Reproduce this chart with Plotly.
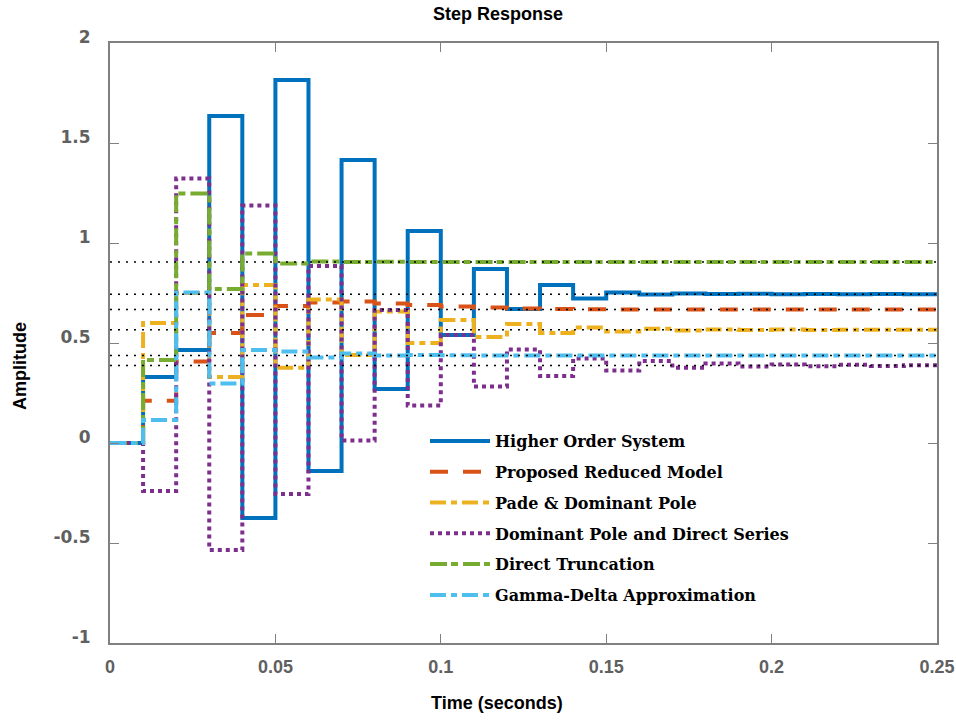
import plotly.graph_objects as go

# sample times (s)
t = [round(k * 0.01, 2) for k in range(26)]

higher_order = [0, 0.33, 0.465, 1.635, -0.375, 1.815, -0.14, 1.415, 0.27, 1.06, 0.54, 0.87, 0.67,
                0.79, 0.723, 0.753, 0.743, 0.748, 0.745, 0.746, 0.744, 0.745, 0.744, 0.745, 0.744, 0.744]
proposed = [0, 0.211, 0.407, 0.55, 0.64, 0.685, 0.703, 0.707, 0.698, 0.69, 0.682, 0.677, 0.673,
            0.67, 0.669, 0.668, 0.668, 0.668, 0.668, 0.668, 0.668, 0.668, 0.668, 0.668, 0.668, 0.668]
pade = [0, 0.60, 0.75, 0.33, 0.79, 0.376, 0.718, 0.44, 0.657, 0.50, 0.615, 0.53, 0.595,
        0.55, 0.578, 0.558, 0.571, 0.563, 0.568, 0.565, 0.567, 0.565, 0.566, 0.566, 0.566, 0.566]
dominant = [0, -0.24, 1.323, -0.535, 1.187, -0.255, 0.885, 0.012, 0.665, 0.187, 0.54, 0.282, 0.468,
            0.335, 0.423, 0.362, 0.41, 0.376, 0.398, 0.382, 0.393, 0.384, 0.391, 0.385, 0.389, 0.387]
truncation = [0, 0.415, 1.248, 0.77, 0.948, 0.898, 0.907, 0.905, 0.906, 0.905, 0.905, 0.905, 0.905,
              0.905, 0.905, 0.905, 0.905, 0.905, 0.905, 0.905, 0.905, 0.905, 0.905, 0.905, 0.905, 0.905]
gamma_delta = [0, 0.115, 0.753, 0.298, 0.465, 0.457, 0.427, 0.448, 0.438, 0.44, 0.439, 0.438, 0.438,
               0.438, 0.438, 0.438, 0.438, 0.438, 0.438, 0.438, 0.438, 0.438, 0.438, 0.438, 0.438, 0.438]
steady_states = [0.905, 0.744, 0.668, 0.566, 0.438, 0.387]

names = ["Higher Order System", "Proposed Reduced Model", "Pade & Dominant Pole",
         "Dominant Pole and Direct Series", "Direct Truncation", "Gamma-Delta Approximation"]
series = [higher_order, proposed, pade, dominant, truncation, gamma_delta]
colors = ["#0072BD", "#D95319", "#EDB120", "#7E2F8E", "#77AC30", "#4DBEEE"]
dashes = ["solid", "18px,15px", "16px,5px,6px,5px", "4px,4px", "17px,4px,7px,5px", "16px,5px,6px,5px"]

x_ticks = [0, 0.05, 0.1, 0.15, 0.2, 0.25]
x_ticktext = ["0", "0.05", "0.1", "0.15", "0.2", "0.25"]
y_ticks = [-1, -0.5, 0, 0.5, 1, 1.5, 2]
y_ticktext = ["-1", "-0.5", "0", "0.5", "1", "1.5", "2"]

fig = go.Figure()
for i, (nm, ys, c, d) in enumerate(zip(names, series, colors, dashes)):
    fig.add_trace(go.Scatter(x=t, y=ys, mode="lines", name=nm,
                             line=dict(color=c, width=4, dash=d, shape="hv"),
                             legendgroup=f"g{i}"))

for v in steady_states:
    fig.add_trace(go.Scatter(x=[t[0], t[-1]], y=[v, v], mode="lines", showlegend=False,
                             line=dict(color="black", width=1.5, dash="2px,6px"),
                             hoverinfo="skip"))

W, H = 956, 721
L, R, T, B = 110, 937, 43, 643
pw, ph = R - L, B - T


def px(xp):
    return (xp - L) / pw


def py(yp):
    return (B - yp) / ph


axis_common = dict(showline=True, linecolor="#808080", linewidth=2, mirror="ticks",
                   ticks="inside", ticklen=9, tickcolor="#808080", tickwidth=1.2,
                   showgrid=False, zeroline=False, automargin=False)

fig.update_layout(
    width=W, height=H,
    margin=dict(l=L, r=W - R, t=T, b=H - B, autoexpand=False),
    paper_bgcolor="white", plot_bgcolor="white",
    title=dict(text="<b>Step Response</b>", x=498 / W, xanchor="center",
               y=1 - 14 / H, yanchor="middle",
               font=dict(family="Liberation Sans, Arial", size=18, color="black")),
    xaxis=dict(range=[0, 0.25], tickvals=x_ticks, ticktext=x_ticktext,
               tickfont=dict(family="Liberation Sans, Arial", size=18, color="#606060", weight="bold"),
               ticklabelstandoff=6, ticklabeloverflow="allow", **axis_common),
    yaxis=dict(range=[-1, 2], tickvals=y_ticks, ticktext=y_ticktext,
               tickfont=dict(family="DejaVu Sans", size=17, color="#606060", weight="bold"),
               ticklabelstandoff=14, ticklabelshift=-6, **axis_common),
    legend=dict(x=px(425), y=py(424), xanchor="left", yanchor="top",
                bgcolor="rgba(0,0,0,0)", borderwidth=0, tracegroupgap=7,
                itemwidth=60,
                font=dict(family="DejaVu Serif", size=16, color="black", weight="bold")),
    annotations=[
        dict(text="<b>Amplitude</b>", x=px(20), y=py(366), xref="paper", yref="paper",
             xanchor="center", yanchor="middle", showarrow=False, textangle=-90,
             font=dict(family="Liberation Sans, Arial", size=18, color="black")),
        dict(text="<b>Time (seconds)</b>", x=px(497), y=py(703), xref="paper", yref="paper",
             xanchor="center", yanchor="middle", showarrow=False,
             font=dict(family="Liberation Sans, Arial", size=18, color="black")),
    ],
    showlegend=True,
)

fig.write_html("out.html")
